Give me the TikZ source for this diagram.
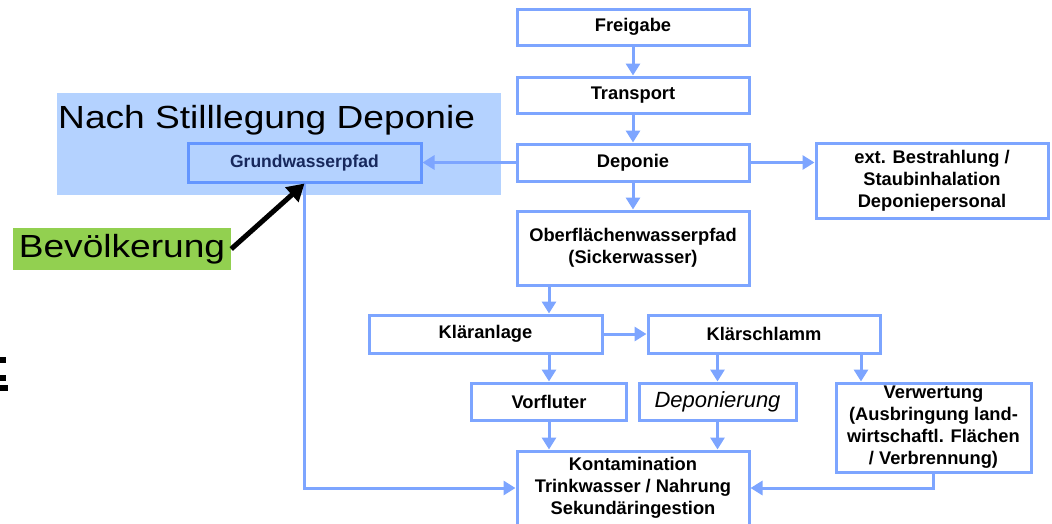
\documentclass[tikz,border=0pt]{standalone}
\usepackage{fontspec}
\setmainfont{Liberation Sans}
\usetikzlibrary{arrows.meta,calc}
\definecolor{boxblue}{RGB}{125,165,255}
\definecolor{grundblue}{RGB}{100,150,255}
\definecolor{bgblue}{RGB}{180,210,255}
\definecolor{navy}{RGB}{23,40,92}
\definecolor{gruen}{RGB}{146,208,80}
\tikzset{
  box/.style={draw=boxblue, line width=3pt, fill=white, inner sep=0pt, align=center,
    font=\bfseries\fontsize{18.3}{22}\selectfont},
  arr/.style={draw=boxblue, line width=3pt, -{Triangle[width=14pt,length=12pt]}},
  blackarr/.style={draw=black, line width=5pt, -{Triangle[width=19pt,length=17pt]}},
  bigtext/.style={inner sep=0pt, font=\fontsize{32}{36}\selectfont}
}
\begin{document}
\begin{tikzpicture}[x=1pt,y=-1pt]
\useasboundingbox (0,0) rectangle (1052,523);
\clip (0,0) rectangle (1052,523);
% background highlight
\fill[bgblue] (57,93) rectangle (501,195);
\node[bigtext, anchor=base west] (title) at (58,128) {\scalebox{1.16}[1]{Nach Stilllegung Deponie}};
% left edge fragment
\fill[black] (0,357) rectangle (6,363);
\fill[black] (0,375) rectangle (6,381);
\fill[black] (0,385) rectangle (8,391);
% boxes
\node[box, minimum width=232pt, minimum height=36pt] (frei) at (633,27) {Freigabe};
\node[box, minimum width=232pt, minimum height=36pt] (trans) at (633,95) {Transport};
\node[box, minimum width=232pt, minimum height=37pt] (dep) at (633,162.5) {Deponie};
\node[box, minimum width=232pt, minimum height=75pt] (ext) at (932,180.5) {ext. Bestrahlung /\\Staubinhalation\\Deponiepersonal};
\node[box, minimum width=232pt, minimum height=74pt] (ober) at (633,248) {Oberflächenwasserpfad\\(Sickerwasser)};
\node[box, minimum width=233pt, minimum height=38pt] (klaer) at (485.5,334) {Kläranlage};
\node[box, minimum width=232pt, minimum height=38pt] (schlamm) at (764,334) {Klärschlamm};
\node[box, minimum width=155pt, minimum height=37pt] (vorf) at (549,401.5) {Vorfluter};
\node[box, minimum width=157pt, minimum height=37pt, font=\itshape\fontsize{22}{26}\selectfont] (deponierung) at (717.5,401.5) {Deponierung};
\node[box, minimum width=195pt, minimum height=89pt] (verw) at (933.5,427.5) {Verwertung\\(Ausbringung land-\\wirtschaftl. Flächen\\/ Verbrennung)};
\node[box, minimum width=232pt, minimum height=74pt] (kont) at (633,488) {Kontamination\\Trinkwasser / Nahrung\\Sekundäringestion};
\node[box, fill=bgblue, draw=grundblue, text=navy, minimum width=233pt, minimum height=39pt, font=\bfseries\fontsize{17.5}{20}\selectfont] (grund) at (304.5,162.5) {Grundwasserpfad};
\node[bigtext, fill=gruen, minimum width=218pt, minimum height=42pt] (bev) at (122,249) {\scalebox{1.16}[1]{Bevölkerung}};
% connectors
\coordinate (sv) at (861,353);
\draw[arr] (frei) -- (trans);
\draw[arr] (trans) -- (dep);
\draw[arr] (dep) -- (ober);
\draw[arr] (dep.east) -- (dep.east -| ext.west);
\draw[arr] (dep) -- (grund);
\draw[arr] (ober.south -| vorf.north) -- (klaer.north -| vorf.north);
\draw[arr] (klaer) -- (schlamm);
\draw[arr] (klaer.south -| vorf.north) -- (vorf.north);
\draw[arr] (deponierung.north |- schlamm.south) -- (deponierung.north);
\draw[arr] (sv) -- (sv |- verw.north);
\draw[arr] (vorf.south) -- (vorf.south |- kont.north);
\draw[arr] (deponierung.south) -- (deponierung.south |- kont.north);
\draw[arr] (verw.south) |- (kont.east);
\draw[arr] (grund.south) |- (kont.west);
\draw[blackarr] (bev.east) -- (grund.south);
\end{tikzpicture}
\end{document}
